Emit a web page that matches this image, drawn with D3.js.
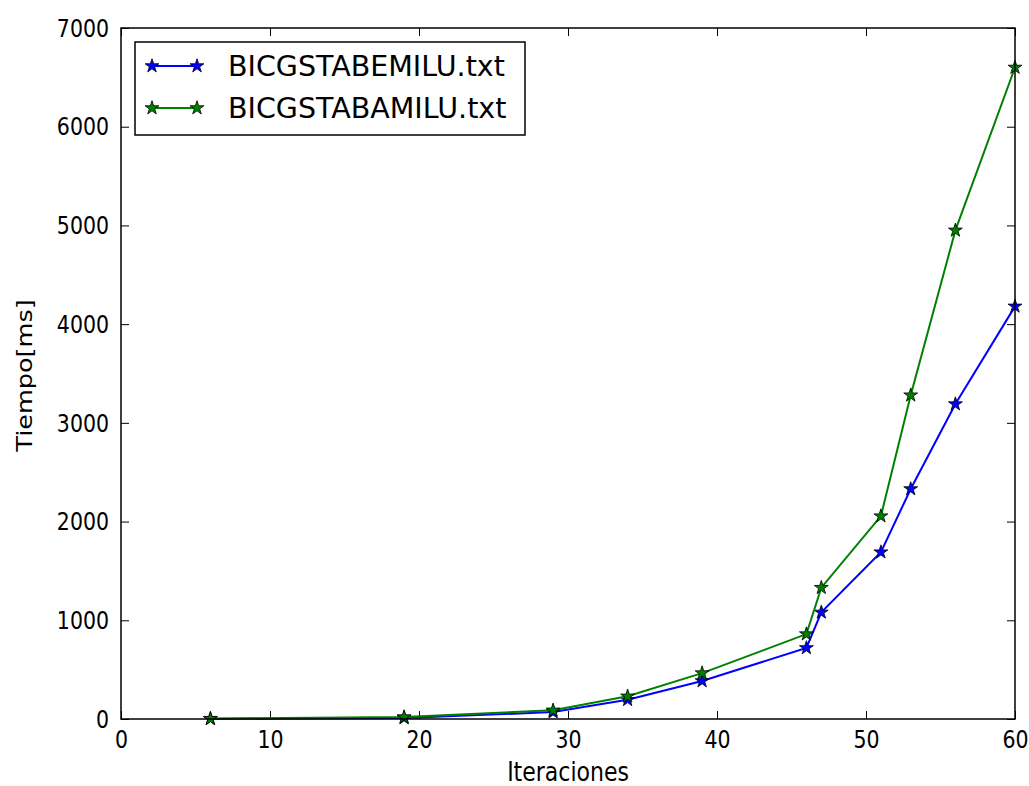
<!DOCTYPE html>
<html>
<head>
<meta charset="utf-8">
<script src="https://cdn.jsdelivr.net/npm/d3@7"></script>
<style>
  body { margin: 0; background: #fff; }
  svg { display: block; font-family: "DejaVu Sans", sans-serif; }
</style>
</head>
<body>
<svg id="chart"></svg>
<script>
const iteraciones = [6, 19, 29, 34, 39, 46, 47, 51, 53, 56, 60];
const tiempoEMILU = [2, 10, 70, 195, 385, 720, 1080, 1690, 2330, 3190, 4180];
const tiempoAMILU = [3, 20, 88, 230, 465, 860, 1330, 2055, 3280, 4950, 6600];
const seriesNames = ["BICGSTABEMILU.txt", "BICGSTABAMILU.txt"];
const seriesColors = ["#0000ff", "#008000"];
const xTicks = [0, 10, 20, 30, 40, 50, 60];
const yTicks = [0, 1000, 2000, 3000, 4000, 5000, 6000, 7000];

const width = 1029;
const height = 786;
const margin = { left: 121, right: 14, top: 28, bottom: 67 };
// the source image is a bit taller than wide, text looks stretched vertically
const stretch = 1.25;

const svg = d3.select("#chart").attr("width", width).attr("height", height);

const x = d3.scaleLinear().domain([0, 60]).range([margin.left, width - margin.right]);
const y = d3.scaleLinear().domain([0, 7000]).range([height - margin.bottom, margin.top]);

const series = [tiempoEMILU, tiempoAMILU].map((vals, i) => ({
  name: seriesNames[i],
  color: seriesColors[i],
  points: iteraciones.map((it, j) => [it, vals[j]])
}));

// axes: matplotlib classic, ticks pointing inward on all four sides
const tickLen = 8;
const axisBottom = svg.append("g")
  .attr("transform", `translate(0,${y(0)})`)
  .call(d3.axisBottom(x).tickValues(xTicks).tickSizeInner(-tickLen).tickSizeOuter(0).tickPadding(11));
const axisTop = svg.append("g")
  .attr("transform", `translate(0,${y(7000)})`)
  .call(d3.axisTop(x).tickValues(xTicks).tickSizeInner(-tickLen).tickSizeOuter(0).tickFormat(""));
const axisLeft = svg.append("g")
  .attr("transform", `translate(${x(0)},0)`)
  .call(d3.axisLeft(y).tickValues(yTicks).tickSizeInner(-tickLen).tickSizeOuter(0).tickPadding(12).tickFormat(d3.format("d")));
const axisRight = svg.append("g")
  .attr("transform", `translate(${x(60)},0)`)
  .call(d3.axisRight(y).tickValues(yTicks).tickSizeInner(-tickLen).tickSizeOuter(0).tickFormat(""));

[axisBottom, axisTop, axisLeft, axisRight].forEach((g) => {
  g.select(".domain").remove();
  g.selectAll("line").attr("stroke", "#000").attr("stroke-width", 1);
  g.selectAll("text").attr("fill", "#000").style("font-size", "20.5px").style("font-family", "DejaVu Sans");
});

// stretch tick labels vertically around their own anchor
axisBottom.selectAll("text").each(function () {
  const t = d3.select(this);
  const ty = +t.attr("y");
  t.attr("y", 0).attr("transform", `translate(0,${ty}) scale(1,${stretch})`);
});
axisLeft.selectAll("text").each(function () {
  const t = d3.select(this);
  const tx = +t.attr("x");
  t.attr("x", 0).attr("transform", `translate(${tx},0) scale(1,${stretch})`);
});

const line = d3.line().x((d) => x(d[0])).y((d) => y(d[1]));
const star = d3.symbol().type(d3.symbolStar).size(60);

const seriesG = svg.append("g")
  .selectAll("g")
  .data(series)
  .join("g");

seriesG.append("path")
  .attr("d", (d) => line(d.points))
  .attr("fill", "none")
  .attr("stroke", (d) => d.color)
  .attr("stroke-width", 2);

seriesG.selectAll(".marker")
  .data((d) => d.points.map((p) => ({ p, color: d.color })))
  .join("path")
  .classed("marker", true)
  .attr("transform", (d) => `translate(${x(d.p[0])},${y(d.p[1])})`)
  .attr("d", star)
  .attr("fill", (d) => d.color)
  .attr("stroke", "#000")
  .attr("stroke-width", 0.8);

// frame
svg.append("rect")
  .attr("x", x(0))
  .attr("y", y(7000))
  .attr("width", x(60) - x(0))
  .attr("height", y(0) - y(7000))
  .attr("fill", "none")
  .attr("stroke", "#000")
  .attr("stroke-width", 1.5);

// axis labels
svg.append("text")
  .attr("transform", `translate(${(x(0) + x(60)) / 2},781) scale(1,1.17)`)
  .attr("text-anchor", "middle")
  .style("font-size", "22px")
  .text("Iteraciones");

svg.append("text")
  .attr("transform", `translate(32,${(y(0) + y(7000)) / 2 + 2}) scale(1,1.16) rotate(-90)`)
  .attr("text-anchor", "middle")
  .style("font-size", "22px")
  .text("Tiempo[ms]");

// legend
const legend = svg.append("g").attr("transform", "translate(135,42)");
legend.append("rect")
  .attr("width", 390)
  .attr("height", 93)
  .attr("fill", "#fff")
  .attr("stroke", "#000")
  .attr("stroke-width", 1.5);

const items = legend.selectAll(".item")
  .data(series)
  .join("g")
  .classed("item", true)
  .attr("transform", (d, i) => `translate(0,${24 + i * 42})`);

items.append("line")
  .attr("x1", 17).attr("x2", 62)
  .attr("stroke", (d) => d.color)
  .attr("stroke-width", 2);

items.selectAll(".marker")
  .data((d) => [17, 62].map((px) => ({ px, color: d.color })))
  .join("path")
  .attr("transform", (d) => `translate(${d.px},0)`)
  .attr("d", star)
  .attr("fill", (d) => d.color)
  .attr("stroke", "#000")
  .attr("stroke-width", 0.8);

items.append("text")
  .attr("x", 93)
  .attr("dy", "0.36em")
  .style("font-size", "28.5px")
  .text((d) => d.name);
</script>
</body>
</html>
